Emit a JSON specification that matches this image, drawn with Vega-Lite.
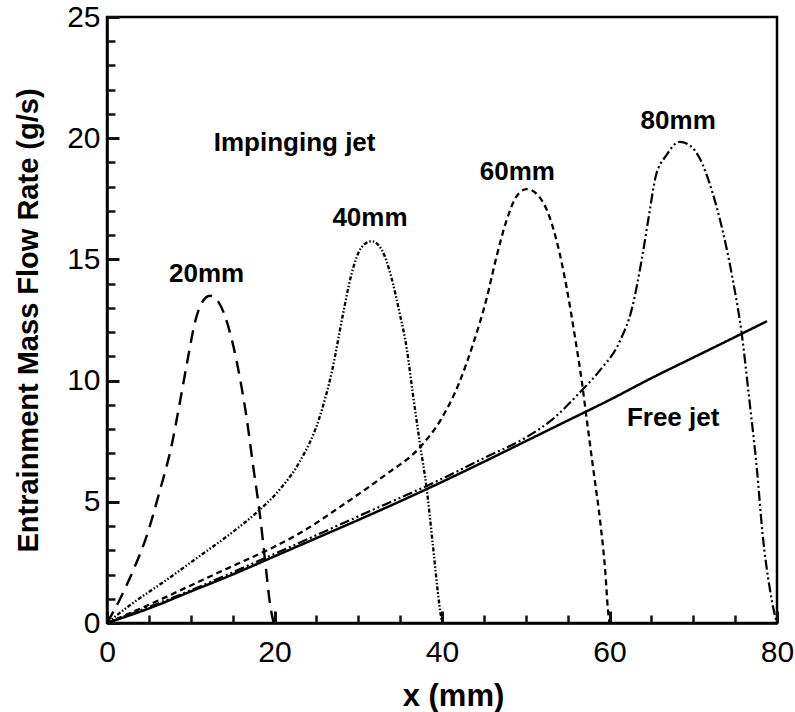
{
  "$schema": "https://vega.github.io/schema/vega-lite/v6.json",
  "width": 670,
  "height": 606,
  "autosize": "none",
  "padding": {"left": 107, "top": 17, "right": 18, "bottom": 89},
  "background": "white",
  "config": {
    "view": {"stroke": "black", "strokeWidth": 2.5},
    "font": "Liberation Sans"
  },
  "datasets": {
    "curves": [
      {"series": "Free jet", "x": 0, "y": 0},
      {"series": "Free jet", "x": 5, "y": 0.6},
      {"series": "Free jet", "x": 10, "y": 1.3},
      {"series": "Free jet", "x": 15, "y": 2.0},
      {"series": "Free jet", "x": 20, "y": 2.75},
      {"series": "Free jet", "x": 25, "y": 3.5},
      {"series": "Free jet", "x": 30, "y": 4.25},
      {"series": "Free jet", "x": 35, "y": 5.02},
      {"series": "Free jet", "x": 40, "y": 5.82},
      {"series": "Free jet", "x": 45, "y": 6.65},
      {"series": "Free jet", "x": 50, "y": 7.5},
      {"series": "Free jet", "x": 55, "y": 8.35},
      {"series": "Free jet", "x": 60, "y": 9.2},
      {"series": "Free jet", "x": 65, "y": 10.1},
      {"series": "Free jet", "x": 70, "y": 10.95},
      {"series": "Free jet", "x": 75, "y": 11.8},
      {"series": "Free jet", "x": 78.8, "y": 12.45},

      {"series": "20mm", "x": 0, "y": 0},
      {"series": "20mm", "x": 1.5, "y": 0.95},
      {"series": "20mm", "x": 3.1, "y": 2.15},
      {"series": "20mm", "x": 4.7, "y": 3.55},
      {"series": "20mm", "x": 6.3, "y": 5.45},
      {"series": "20mm", "x": 7.7, "y": 7.3},
      {"series": "20mm", "x": 8.7, "y": 9.1},
      {"series": "20mm", "x": 9.7, "y": 11.0},
      {"series": "20mm", "x": 10.5, "y": 12.4},
      {"series": "20mm", "x": 11.3, "y": 13.2},
      {"series": "20mm", "x": 12.3, "y": 13.5},
      {"series": "20mm", "x": 13.3, "y": 13.25},
      {"series": "20mm", "x": 14.1, "y": 12.65},
      {"series": "20mm", "x": 15.0, "y": 11.55},
      {"series": "20mm", "x": 15.9, "y": 10.05},
      {"series": "20mm", "x": 16.7, "y": 8.4},
      {"series": "20mm", "x": 17.4, "y": 6.6},
      {"series": "20mm", "x": 18.3, "y": 4.35},
      {"series": "20mm", "x": 18.9, "y": 2.5},
      {"series": "20mm", "x": 19.5, "y": 0.7},
      {"series": "20mm", "x": 19.9, "y": 0},

      {"series": "40mm", "x": 0, "y": 0},
      {"series": "40mm", "x": 3, "y": 0.8},
      {"series": "40mm", "x": 7, "y": 1.75},
      {"series": "40mm", "x": 11, "y": 2.75},
      {"series": "40mm", "x": 15, "y": 3.75},
      {"series": "40mm", "x": 18, "y": 4.6},
      {"series": "40mm", "x": 20.6, "y": 5.5},
      {"series": "40mm", "x": 23, "y": 6.65},
      {"series": "40mm", "x": 25.3, "y": 8.4},
      {"series": "40mm", "x": 26.9, "y": 10.45},
      {"series": "40mm", "x": 28.1, "y": 12.6},
      {"series": "40mm", "x": 29.2, "y": 14.4},
      {"series": "40mm", "x": 30.4, "y": 15.5},
      {"series": "40mm", "x": 31.6, "y": 15.75},
      {"series": "40mm", "x": 32.8, "y": 15.4},
      {"series": "40mm", "x": 34.0, "y": 14.2},
      {"series": "40mm", "x": 34.9, "y": 12.85},
      {"series": "40mm", "x": 35.8, "y": 11.3},
      {"series": "40mm", "x": 36.5, "y": 9.5},
      {"series": "40mm", "x": 37.3, "y": 7.55},
      {"series": "40mm", "x": 38.2, "y": 5.45},
      {"series": "40mm", "x": 38.9, "y": 3.25},
      {"series": "40mm", "x": 39.7, "y": 0.7},
      {"series": "40mm", "x": 40, "y": 0},

      {"series": "60mm", "x": 0, "y": 0},
      {"series": "60mm", "x": 5, "y": 0.75},
      {"series": "60mm", "x": 10, "y": 1.55},
      {"series": "60mm", "x": 15, "y": 2.35},
      {"series": "60mm", "x": 20, "y": 3.15},
      {"series": "60mm", "x": 23, "y": 3.7},
      {"series": "60mm", "x": 28.5, "y": 4.95},
      {"series": "60mm", "x": 33, "y": 6.05},
      {"series": "60mm", "x": 37.5, "y": 7.3},
      {"series": "60mm", "x": 39.7, "y": 8.3},
      {"series": "60mm", "x": 42.1, "y": 9.95},
      {"series": "60mm", "x": 43.7, "y": 11.5},
      {"series": "60mm", "x": 45.3, "y": 13.35},
      {"series": "60mm", "x": 46.5, "y": 15.1},
      {"series": "60mm", "x": 47.7, "y": 16.6},
      {"series": "60mm", "x": 48.9, "y": 17.6},
      {"series": "60mm", "x": 50.1, "y": 17.9},
      {"series": "60mm", "x": 51.3, "y": 17.7},
      {"series": "60mm", "x": 52.5, "y": 17.05},
      {"series": "60mm", "x": 53.7, "y": 15.75},
      {"series": "60mm", "x": 54.9, "y": 13.8},
      {"series": "60mm", "x": 55.9, "y": 11.75},
      {"series": "60mm", "x": 56.7, "y": 9.95},
      {"series": "60mm", "x": 57.3, "y": 8.35},
      {"series": "60mm", "x": 58.1, "y": 6.25},
      {"series": "60mm", "x": 58.9, "y": 4.15},
      {"series": "60mm", "x": 59.5, "y": 2.1},
      {"series": "60mm", "x": 59.8, "y": 0.6},
      {"series": "60mm", "x": 60, "y": 0},

      {"series": "80mm", "x": 0, "y": 0},
      {"series": "80mm", "x": 10, "y": 1.35},
      {"series": "80mm", "x": 20, "y": 2.85},
      {"series": "80mm", "x": 30, "y": 4.4},
      {"series": "80mm", "x": 40, "y": 5.95},
      {"series": "80mm", "x": 45, "y": 6.8},
      {"series": "80mm", "x": 50, "y": 7.65},
      {"series": "80mm", "x": 53, "y": 8.35},
      {"series": "80mm", "x": 56.7, "y": 9.6},
      {"series": "80mm", "x": 58.8, "y": 10.4},
      {"series": "80mm", "x": 61.2, "y": 11.6},
      {"series": "80mm", "x": 62.7, "y": 13.0},
      {"series": "80mm", "x": 63.9, "y": 15.1},
      {"series": "80mm", "x": 64.8, "y": 17.0},
      {"series": "80mm", "x": 65.5, "y": 18.4},
      {"series": "80mm", "x": 66.8, "y": 19.3},
      {"series": "80mm", "x": 68.4, "y": 19.85},
      {"series": "80mm", "x": 69.6, "y": 19.7},
      {"series": "80mm", "x": 70.8, "y": 19.15},
      {"series": "80mm", "x": 72.3, "y": 17.75},
      {"series": "80mm", "x": 73.5, "y": 16.2},
      {"series": "80mm", "x": 74.7, "y": 14.2},
      {"series": "80mm", "x": 75.8, "y": 11.9},
      {"series": "80mm", "x": 76.7, "y": 9.2},
      {"series": "80mm", "x": 77.6, "y": 6.35},
      {"series": "80mm", "x": 78.3, "y": 3.6},
      {"series": "80mm", "x": 79.1, "y": 1.5},
      {"series": "80mm", "x": 79.6, "y": 0.55},
      {"series": "80mm", "x": 80, "y": 0}
    ],
    "labels": [
      {"label": "Impinging jet", "x": 22.4, "y": 19.8},
      {"label": "20mm", "x": 11.9, "y": 14.4},
      {"label": "40mm", "x": 31.4, "y": 16.7},
      {"label": "60mm", "x": 49.0, "y": 18.6},
      {"label": "80mm", "x": 68.2, "y": 20.7},
      {"label": "Free jet", "x": 67.6, "y": 8.45}
    ]
  },
  "layer": [
    {
      "encoding": {
        "x": {
          "field": "x", "type": "quantitative",
          "scale": {"domain": [0, 80], "nice": false, "zero": false},
          "axis": {
            "orient": "bottom", "values": [0, 20, 40, 60, 80], "ticks": true, "tickSize": -12, "tickWidth": 3, "tickColor": "#111111",
            "domainColor": "black", "domainWidth": 2.5, "grid": false,
            "labelFontSize": 30, "labelColor": "black", "labelPadding": 26, "labelFlush": false,
            "title": "x (mm)", "titleFontSize": 31, "titleFontWeight": "bold", "titleColor": "black",
            "titleX": 346, "titleY": 73, "titleBaseline": "middle", "titleAlign": "center"
          }
        },
        "y": {
          "field": "y", "type": "quantitative",
          "scale": {"domain": [0, 25], "nice": false, "zero": false},
          "axis": {
            "orient": "left", "values": [0, 5, 10, 15, 20, 25], "ticks": true, "tickSize": -12, "tickWidth": 3, "tickColor": "#111111", "grid": false,
            "domainColor": "black", "domainWidth": 2.5,
            "labelFontSize": 30, "labelColor": "black", "labelPadding": 19, "labelFlush": false,
            "title": "Entrainment Mass Flow Rate (g/s)", "titleFontSize": 29, "titleFontWeight": "bold", "titleColor": "black",
            "titleX": -79, "titleY": 303, "titleAngle": -90, "titleBaseline": "middle", "titleAlign": "center"
          }
        }
      },
      "layer": [
        {
          "data": {"name": "curves"},
          "mark": {"type": "line", "color": "black", "interpolate": "monotone"},
          "encoding": {
            "detail": {"field": "series"},
            "strokeDash": {
              "field": "series", "type": "nominal", "legend": null,
              "scale": {
                "domain": ["Free jet", "20mm", "40mm", "60mm", "80mm"],
                "range": [[1, 0], [13, 8], [4, 2, 1.5, 2, 1.5, 2], [6, 4], [10, 3, 2, 3, 2, 3]]
              }
            },
            "strokeWidth": {
              "field": "series", "type": "nominal", "legend": null,
              "scale": {
                "domain": ["Free jet", "20mm", "40mm", "60mm", "80mm"],
                "range": [2.5, 2.2, 1.8, 2.2, 2.2]
              }
            }
          }
        },
        {
          "data": {"name": "labels"},
          "mark": {"type": "text", "font": "Liberation Sans", "fontWeight": "bold", "fontSize": 26, "color": "black", "align": "center", "baseline": "middle"},
          "encoding": {
            "text": {"field": "label"}
          }
        }
      ]
    },
    {
      "data": {"name": "labels"},
      "mark": {"type": "point", "opacity": 0},
      "encoding": {
        "x": {
          "field": "x", "type": "quantitative",
          "axis": {"orient": "top", "offset": -606, "values": [5, 10, 15, 25, 30, 35, 45, 50, 55, 65, 70, 75], "tickSize": 8, "tickWidth": 2.5, "tickColor": "#111111", "labels": false, "domain": false, "title": null, "grid": false}
        },
        "y": {
          "field": "y", "type": "quantitative",
          "axis": {"orient": "right", "offset": -670, "values": [1, 2, 3, 4, 6, 7, 8, 9, 11, 12, 13, 14, 16, 17, 18, 19, 21, 22, 23, 24], "tickSize": 8, "tickWidth": 2.5, "tickColor": "#111111", "labels": false, "domain": false, "title": null, "grid": false}
        }
      }
    }
  ],
  "resolve": {"axis": {"x": "independent", "y": "independent"}}
}
